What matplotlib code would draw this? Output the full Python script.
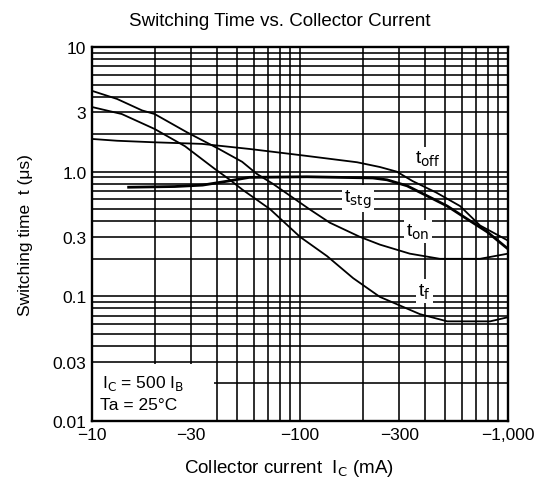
import matplotlib
matplotlib.use("Agg")
import matplotlib.pyplot as plt
from matplotlib.ticker import FixedLocator, FixedFormatter, LogLocator, NullFormatter
from matplotlib.patches import Rectangle

plt.rcParams['font.family'] = ['Liberation Sans', 'DejaVu Sans']

# Collector current magnitude (mA, plotted as negative currents) and switching times (us)
ic_ton = [10, 13.2, 17.4, 20, 28.6, 40.8, 52.7, 62, 74, 111, 139, 194, 242, 337, 470, 734, 1000]
t_on = [4.45, 3.83, 3.1, 2.9, 2.07, 1.52, 1.2, 0.96, 0.8, 0.5, 0.39, 0.3, 0.26, 0.22, 0.2, 0.2, 0.22]

ic_tf = [10, 13.9, 20, 28, 39, 45.6, 52.7, 71.8, 100, 135, 180, 242, 377, 510, 820, 1000]
t_f = [3.3, 2.9, 2.2, 1.6, 1.05, 0.87, 0.72, 0.5, 0.3, 0.21, 0.14, 0.099, 0.072, 0.063, 0.063, 0.068]

ic_toff = [10, 13.2, 20, 33.8, 57.4, 103, 188, 242, 292, 348, 452, 588, 734, 1000]
t_off = [1.83, 1.77, 1.72, 1.67, 1.52, 1.35, 1.19, 1.09, 1.0, 0.84, 0.68, 0.53, 0.37, 0.28]

ic_tstg = [15, 25, 34, 45, 57, 108, 224, 262, 327, 408, 510, 632, 792, 1000]
t_stg = [0.75, 0.76, 0.78, 0.84, 0.9, 0.91, 0.89, 0.86, 0.77, 0.64, 0.53, 0.42, 0.33, 0.24]

x_ticks = [10, 30, 100, 300, 1000]
x_labels = ['\u221210', '\u221230', '\u2212100', '\u2212300', '\u22121,000']
y_ticks = [0.01, 0.03, 0.1, 0.3, 1.0, 3, 10]
y_labels = ['0.01', '0.03', '0.1', '0.3', '1.0', '3', '10']

fig = plt.figure(figsize=(5.41, 4.85), dpi=100)
ax = fig.add_axes([92/541, 1-422/485, (508-92)/541, (422-48)/485])
ax.set_xscale('log')
ax.set_yscale('log')
ax.set_xlim(10, 1000)
ax.set_ylim(0.01, 10)

ax.xaxis.set_major_locator(FixedLocator(x_ticks))
ax.xaxis.set_major_formatter(FixedFormatter(x_labels))
ax.xaxis.set_minor_locator(LogLocator(base=10, subs=range(2, 10)))
ax.xaxis.set_minor_formatter(NullFormatter())
ax.yaxis.set_major_locator(FixedLocator(y_ticks))
ax.yaxis.set_major_formatter(FixedFormatter(y_labels))
ax.yaxis.set_minor_locator(LogLocator(base=10, subs=range(2, 10)))
ax.yaxis.set_minor_formatter(NullFormatter())

ax.grid(True, which='both', color='black', linewidth=1.15)
ax.set_axisbelow(True)
ax.tick_params(which='both', length=0, labelsize=12.5, pad=4, colors='black')
for s in ax.spines.values():
    s.set_linewidth(1.7)
    s.set_zorder(10)

lw = 1.3
ax.plot(ic_ton, t_on, color='black', lw=lw, zorder=4)
ax.plot(ic_tf, t_f, color='black', lw=lw, zorder=4)
ax.plot(ic_toff, t_off, color='black', lw=lw, zorder=4)
ax.plot(ic_tstg, t_stg, color='black', lw=2.0, zorder=4)

box = dict(facecolor='white', edgecolor='none', pad=1.5)
ax.text(410, 1.27, 't$_{\\rm off}$', fontsize=14, ha='center', va='center', bbox=box, zorder=6)
ax.text(190, 0.61, 't$_{\\rm stg}$', fontsize=14, ha='center', va='center', bbox=box, zorder=6)
ax.text(369, 0.33, 't$_{\\rm on}$', fontsize=14, ha='center', va='center', bbox=box, zorder=6)
ax.text(398, 0.11, 't$_{\\rm f}$', fontsize=14, ha='center', va='center', bbox=box, zorder=6)

ax.add_patch(Rectangle((10.15, 0.0101), 38.6 - 10.15, 0.0287 - 0.0101,
                       facecolor='white', edgecolor='none', zorder=5))
ax.text(11.2, 0.0205, 'I$_{\\rm C}$ = 500 I$_{\\rm B}$', fontsize=12.5, ha='left', va='center', zorder=6)
ax.text(10.9, 0.0135, 'Ta = 25\u00b0C', fontsize=12.5, ha='left', va='center', zorder=6)

ax.set_title('Switching Time vs. Collector Current', fontsize=13.5, pad=16, x=0.452)
ax.set_xlabel('Collector current  I$_{\\rm C}$ (mA)', fontsize=13.5, labelpad=6)
ax.xaxis.set_label_coords(0.474, -0.095)
ax.set_ylabel('Switching time  t (\u03bcs)', fontsize=12.5, labelpad=14)

fig.savefig('out.png', dpi=100)
